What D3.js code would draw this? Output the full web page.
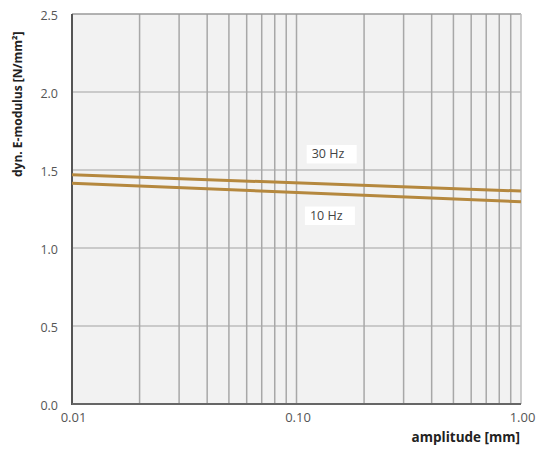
<!DOCTYPE html>
<html>
<head>
<meta charset="utf-8">
<script src="https://cdn.jsdelivr.net/npm/d3@7"></script>
<style>
  body { margin: 0; background: #fff; }
  svg text { font-family: "Open Sans", "Noto Sans", sans-serif; }
</style>
</head>
<body>
<svg id="chart" width="542" height="450"></svg>
<script>
"use strict";

// Data
var amplitudes = [0.01, 1.00];
var hz30 = [1.47, 1.365];
var hz10 = [1.415, 1.297];
var seriesNames = ["30 Hz", "10 Hz"];
var yTicks = [0, 0.5, 1.0, 1.5, 2.0, 2.5];
var xTickLabels = ["0.01", "0.10", "1.00"];
var xGrid = [0.02, 0.03, 0.04, 0.05, 0.06, 0.07, 0.08, 0.09, 0.1,
             0.2, 0.3, 0.4, 0.5, 0.6, 0.7, 0.8, 0.9];

var plotL = 72, plotR = 521, plotT = 14, plotB = 404;
var svg = d3.select("#chart");

var x = d3.scaleLog().domain([0.01, 1]).range([plotL, plotR]);
var y = d3.scaleLinear().domain([0, 2.5]).range([plotB, plotT]);

// Plot background
svg.append("rect")
  .attr("x", plotL).attr("y", plotT)
  .attr("width", plotR - plotL).attr("height", plotB - plotT)
  .attr("fill", "#f2f2f2");

// Grid
svg.selectAll(".hgrid").data(yTicks.slice(1, -1)).enter().append("line")
  .attr("x1", plotL).attr("x2", plotR)
  .attr("y1", d => y(d)).attr("y2", d => y(d))
  .attr("stroke", "#bdbdbd").attr("stroke-width", 1.5);

svg.selectAll(".vgrid").data(xGrid).enter().append("line")
  .attr("x1", d => x(d)).attr("x2", d => x(d))
  .attr("y1", plotT).attr("y2", plotB)
  .attr("stroke", "#a8a8a8").attr("stroke-width", 1.5);

// Frame
svg.append("line").attr("x1", plotL).attr("x2", plotR).attr("y1", plotT).attr("y2", plotT)
  .attr("stroke", "#9a9a9a").attr("stroke-width", 1.5);
svg.append("line").attr("x1", plotR).attr("x2", plotR).attr("y1", plotT).attr("y2", plotB)
  .attr("stroke", "#bdbdbd").attr("stroke-width", 1.5);
svg.append("line").attr("x1", plotL).attr("x2", plotL).attr("y1", plotT).attr("y2", plotB + 1)
  .attr("stroke", "#555").attr("stroke-width", 2);
svg.append("line").attr("x1", plotL).attr("x2", plotR).attr("y1", plotB).attr("y2", plotB)
  .attr("stroke", "#666").attr("stroke-width", 2);

// Axes (labels only)
var yAxis = svg.append("g")
  .attr("transform", "translate(" + (plotL - 14) + ",1)")
  .call(d3.axisLeft(y).tickValues(yTicks).tickFormat(d3.format(".1f")).tickSize(0).tickPadding(0));
var xAxis = svg.append("g")
  .attr("transform", "translate(1," + (plotB + 6) + ")")
  .call(d3.axisBottom(x).tickValues([0.01, 0.1, 1]).tickFormat((d, i) => xTickLabels[i]).tickSize(0).tickPadding(0));
[yAxis, xAxis].forEach(function(a) {
  a.select(".domain").remove();
  a.selectAll("text").attr("fill", "#555")
    .style("font-family", "'Open Sans', 'Noto Sans', sans-serif");
});
yAxis.selectAll("text").style("font-size", "12.5px");
xAxis.selectAll("text").style("font-size", "13px").attr("dy", "0.95em");

// Lines
var line = d3.line().x(d => x(d[0])).y(d => y(d[1]));
[hz30, hz10].forEach(function(vals) {
  svg.append("path")
    .datum(amplitudes.map((a, i) => [a, vals[i]]))
    .attr("d", line)
    .attr("fill", "none")
    .attr("stroke", "#b5883e")
    .attr("stroke-width", 3);
});

// Series labels with white boxes
var labelPos = [[0.111, 1.603], [0.109, 1.208]];
seriesNames.forEach(function(name, i) {
  var px = x(labelPos[i][0]), py = y(labelPos[i][1]);
  svg.append("rect")
    .attr("x", px).attr("y", py - 9)
    .attr("width", 50).attr("height", 18.5)
    .attr("fill", "#fff");
  svg.append("text")
    .attr("x", px + 5).attr("y", py + 4.5)
    .attr("fill", "#444").style("font-size", "12.5px")
    .text(name);
});

// Axis titles
svg.append("text")
  .attr("x", 520).attr("y", 442)
  .attr("text-anchor", "end")
  .attr("fill", "#222")
  .style("font-size", "13.5px").style("font-weight", "bold")
  .text("amplitude [mm]");

svg.append("text")
  .attr("transform", "translate(22,177) rotate(-90)")
  .attr("text-anchor", "start")
  .attr("fill", "#222")
  .style("font-size", "12px").style("font-weight", "bold")
  .text("dyn. E-modulus [N/mm²]");
</script>
</body>
</html>
